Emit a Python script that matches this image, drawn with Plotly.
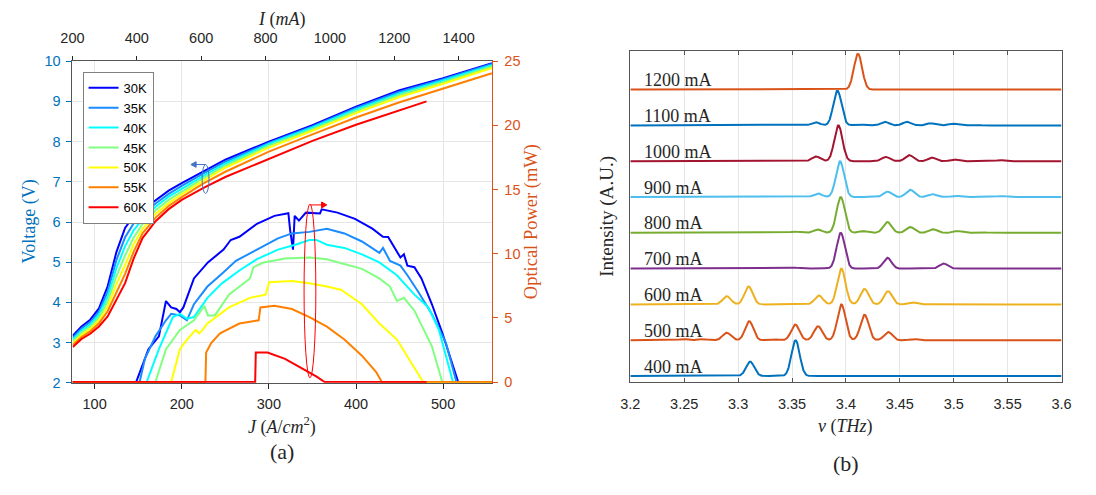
import numpy as np
import plotly.graph_objects as go

W, H = 1096, 495

def px(x):
    return x / W

def py(y):
    return 1 - y / H

# ---------------- Panel (a) data ----------------
TEMPS = ["30K", "35K", "40K", "45K", "50K", "55K", "60K"]
T_COLORS = ["#0000ff", "#1a8cff", "#00ffff", "#80ff80", "#ffff00", "#ff8000", "#ff0000"]

J_V = [75, 85, 95, 105, 115, 125, 135, 145, 155, 170, 185, 200, 225, 250, 300, 350, 400, 450, 500, 556]
V_30K = [3.17, 3.40, 3.57, 3.85, 4.40, 5.25, 5.85, 6.15, 6.30, 6.55, 6.78, 6.97, 7.27, 7.55, 8.00, 8.41, 8.87, 9.28, 9.58, 9.95]
V_35K = [3.12, 3.35, 3.51, 3.77, 4.27, 5.05, 5.62, 5.97, 6.18, 6.46, 6.70, 6.90, 7.21, 7.50, 7.97, 8.38, 8.84, 9.24, 9.55, 9.93]
V_40K = [3.08, 3.30, 3.45, 3.70, 4.15, 4.85, 5.40, 5.80, 6.07, 6.38, 6.63, 6.83, 7.15, 7.45, 7.94, 8.35, 8.80, 9.20, 9.52, 9.90]
V_45K = [3.03, 3.25, 3.40, 3.62, 4.02, 4.65, 5.17, 5.62, 5.95, 6.29, 6.55, 6.76, 7.09, 7.40, 7.90, 8.31, 8.76, 9.16, 9.48, 9.87]
V_50K = [2.98, 3.19, 3.34, 3.55, 3.90, 4.45, 4.93, 5.45, 5.83, 6.20, 6.47, 6.69, 7.03, 7.35, 7.85, 8.27, 8.71, 9.11, 9.44, 9.83]
V_55K = [2.94, 3.14, 3.28, 3.48, 3.78, 4.25, 4.71, 5.27, 5.72, 6.11, 6.40, 6.62, 6.96, 7.25, 7.75, 8.18, 8.60, 8.98, 9.32, 9.70]
J_V_60K = [75, 85, 95, 105, 115, 125, 135, 145, 155, 170, 185, 200, 225, 250, 300, 350, 400, 450, 481]
V_60K = [2.89, 3.09, 3.22, 3.40, 3.65, 4.05, 4.48, 5.10, 5.60, 6.02, 6.32, 6.55, 6.85, 7.12, 7.58, 8.02, 8.42, 8.78, 9.00]

J_P_30K = [74.6, 147.7, 161.8, 173.8, 181.9, 187.9, 193.9, 197.9, 201.9, 214, 230, 248, 256.2, 266.2, 286.3, 306.4, 322.4,
           324.4, 327.7, 329.6, 334.5, 342.5, 358.6, 360.6, 378.7, 398.8, 418.8, 430.9, 436.9, 443, 451, 455, 459, 467,
           475.1, 487.1, 499.2, 517.3, 556.6]
P_30K = [0, 0, 2.56, 3.56, 6.31, 5.81, 5.69, 5.44, 5.81, 8.07, 9.32, 10.32, 11.07, 11.32, 12.33, 12.95, 13.16,
         11.83, 10.32, 12.95, 12.58, 13.2, 13.13, 13.46, 13.2, 12.71, 11.95, 11.32, 11.3, 10.57, 9.7, 9.95, 9.07, 8.95,
         8.07, 6.06, 3.80, 0, 0]
J_P_35K = [74.6, 151.7, 157.7, 169.8, 181.9, 187.9, 197.9, 205.9, 214, 229.5, 246.1, 262.2, 286.3, 310.4, 326.5, 346.5,
           366.6, 386.7, 406.8, 426.8, 431, 439, 451, 459, 471, 487, 503.2, 515.3, 556.6]
P_35K = [0, 0, 1.8, 3.56, 4.81, 5.31, 5.19, 4.81, 6.06, 7.44, 8.44, 9.44, 10.32, 11.2, 11.58, 11.7,
         11.95, 11.58, 10.95, 10.07, 10.45, 9.44, 9.07, 8.32, 7.07, 5.31, 3.05, 0, 0]
J_P_40K = [74.6, 159.8, 173.8, 189.9, 197.9, 206, 214, 229.5, 246.1, 266.2, 286.3, 310.4, 330.5, 346.5, 354.6, 366.6,
           386.7, 406.8, 426.8, 446.9, 467.1, 483.1, 495.2, 511.3, 556.6]
P_40K = [0, 0, 2.56, 5.06, 5.31, 4.93, 5.06, 6.56, 7.69, 8.69, 9.57, 10.32, 10.7, 11.07, 11.07, 10.7,
         10.45, 9.95, 9.32, 8.32, 6.81, 5.81, 4.06, 0, 0]
J_P_45K = [74.6, 169.8, 181.9, 197.9, 214, 226, 230, 238, 254.2, 278.3, 282.3, 294.3, 318.5, 346.5, 366.6, 386.7,
           406.8, 426.8, 439, 447, 455, 467, 487, 499, 556.6]
P_45K = [0, 0, 2.56, 4.06, 4.81, 5.94, 5.19, 5.19, 6.81, 8.07, 8.95, 9.32, 9.62, 9.7, 9.57, 9.2,
         8.82, 8.07, 7.44, 6.31, 6.56, 5.56, 2.8, 0, 0]
J_P_50K = [74.6, 187.9, 197.9, 206, 216, 220, 224, 229.5, 254.2, 278.3, 296.3, 300.4, 326.5, 346.5, 366.6, 382.7,
           406.8, 426.8, 447, 463, 477.1, 556.6]
P_50K = [0, 0, 2.56, 3.31, 4.06, 3.8, 4.06, 4.56, 5.81, 6.56, 6.81, 7.77, 7.87, 7.69, 7.44, 7.19,
         6.06, 4.56, 3.31, 1.55, 0, 0]
J_P_55K = [74.6, 227.2, 228, 234, 244, 266.2, 288.3, 290.3, 306.4, 326.5, 346.5, 366.6, 386.7, 406.8, 422.9, 429.7, 556.6]
P_55K = [0, 0, 2.3, 3.05, 3.8, 4.56, 4.81, 5.81, 5.94, 5.69, 5.06, 4.31, 3.31, 2.05, 0.8, 0, 0]
J_P_60K = [74.6, 284.3, 285, 298.5, 318.6, 338.7, 354.8, 364, 481]
P_60K = [0, 0, 2.3, 2.3, 1.8, 1.05, 0.42, 0, 0]

J_TICKS = [100, 200, 300, 400, 500]
I_TICKS = [200, 400, 600, 800, 1000, 1200, 1400]
V_TICKS = [2, 3, 4, 5, 6, 7, 8, 9, 10]
P_TICKS = [0, 5, 10, 15, 20, 25]

# ---------------- Panel (b) data ----------------
CURRENTS = ["400 mA", "500 mA", "600 mA", "700 mA", "800 mA", "900 mA", "1000 mA", "1100 mA", "1200 mA"]
S_COLORS = ["#0072BD", "#D95319", "#EDB120", "#7E2F8E", "#77AC30", "#4DBEEE", "#A2142F", "#0072BD", "#D95319"]

NU_400 = [3.3112, 3.3533]
A_400 = [0.40, 1.00]
NU_500 = [3.2491, 3.2673, 3.2894, 3.3103, 3.3324, 3.3530, 3.3742, 3.3958, 3.4173, 3.4391, 3.4627]
A_500 = [0.03, 0.03, 0.21, 0.53, 0.03, 0.44, 0.39, 1.00, 0.71, 0.23, 0.03]
NU_600 = [3.2894, 3.3097, 3.3521, 3.3748, 3.3958, 3.4173, 3.4391, 3.4612, 3.4810]
A_600 = [0.23, 0.50, 0.02, 0.25, 1.00, 0.43, 0.37, 0.06, 0.02]
NU_700 = [3.3521, 3.3748, 3.3952, 3.4385, 3.4906, 3.5233]
A_700 = [0.03, 0.02, 1.00, 0.30, 0.14, 0.01]
NU_800 = [3.3521, 3.3739, 3.3952, 3.4158, 3.4385, 3.4597, 3.4809, 3.5036, 3.5248]
A_800 = [0.03, 0.09, 1.00, 0.05, 0.30, 0.16, 0.10, 0.05, 0.02]
NU_900 = [3.3739, 3.3945, 3.4385, 3.4597, 3.4803, 3.5021, 3.5452]
A_900 = [0.10, 1.00, 0.15, 0.20, 0.08, 0.03, 0.03]
NU_1000 = [3.3724, 3.3930, 3.4370, 3.4588, 3.4800, 3.5006, 3.5218, 3.5430]
A_1000 = [0.13, 1.00, 0.12, 0.17, 0.10, 0.05, 0.02, 0.03]
NU_1100 = [3.3718, 3.3921, 3.4121, 3.4361, 3.4567, 3.4788, 3.4991, 3.5203]
A_1100 = [0.09, 0.97, 0.03, 0.10, 0.10, 0.06, 0.05, 0.02]
NU_1200 = [3.4112]
A_1200 = [1.00]
NU_TICKS = [3.2, 3.25, 3.3, 3.35, 3.4, 3.45, 3.5, 3.55, 3.6]
NU_TICKTEXT = ["3.2", "3.25", "3.3", "3.35", "3.4", "3.45", "3.5", "3.55", "3.6"]

# ---------------- figure ----------------
fig = go.Figure()

v_sets = [(J_V, V_30K), (J_V, V_35K), (J_V, V_40K), (J_V, V_45K), (J_V, V_50K), (J_V, V_55K), (J_V_60K, V_60K)]
for name, col, (jx, vy) in zip(TEMPS, T_COLORS, v_sets):
    fig.add_trace(go.Scatter(x=jx, y=vy, mode="lines", name=name, line=dict(color=col, width=2),
                             xaxis="x", yaxis="y", hoverinfo="skip"))

p_sets = [(J_P_30K, P_30K), (J_P_35K, P_35K), (J_P_40K, P_40K), (J_P_45K, P_45K),
          (J_P_50K, P_50K), (J_P_55K, P_55K), (J_P_60K, P_60K)]
for name, col, (jx, py_) in zip(TEMPS, T_COLORS, p_sets):
    fig.add_trace(go.Scatter(x=jx, y=py_, mode="lines", name=name, showlegend=False,
                             line=dict(color=col, width=2), xaxis="x", yaxis="y2", hoverinfo="skip"))

# carrier for the top current axis
fig.add_trace(go.Scatter(x=I_TICKS, y=[None] * len(I_TICKS), mode="lines", showlegend=False,
                         xaxis="x2", yaxis="y", hoverinfo="skip"))

# spectra (each peak list rendered with a Gaussian line shape, stacked by one unit)
nu = np.linspace(3.2, 3.6, 2001)
SIG = 0.0038
peak_sets = [(NU_400, A_400), (NU_500, A_500), (NU_600, A_600), (NU_700, A_700), (NU_800, A_800),
             (NU_900, A_900), (NU_1000, A_1000), (NU_1100, A_1100), (NU_1200, A_1200)]
for k, (lab, col, (centers, amps)) in enumerate(zip(CURRENTS, S_COLORS, peak_sets)):
    y = np.full_like(nu, float(k))
    for c, a in zip(centers, amps):
        y = y + a * np.exp(-0.5 * ((nu - c) / SIG) ** 2)
    fig.add_trace(go.Scatter(x=nu, y=y, mode="lines", showlegend=False, line=dict(color=col, width=2),
                             xaxis="x3", yaxis="y3", hoverinfo="skip"))

SANS = "Liberation Sans, Arial, sans-serif"
SERIF = "Liberation Serif, Times New Roman, serif"
BLUE = "#0072BD"
ORANGE = "#D95319"
DARK = "#262626"
AXL = "#555555"
GRID = "#e6e6e6"
TF = 14.5

XL0, XL1 = px(61.7), px(490.3)
YL0, YL1 = py(387.3), py(55)
XR0, XR1 = px(631), px(1071)
YR0, YR1 = py(386.7), py(44)

fig.update_layout(
    width=W, height=H, autosize=False,
    margin=dict(l=0, r=0, t=0, b=0),
    paper_bgcolor="white", plot_bgcolor="white",
    showlegend=True,
    legend=dict(x=px(72), y=py(66), xanchor="left", yanchor="top",
                bgcolor="white", bordercolor="#808080", borderwidth=1,
                font=dict(family=SANS, size=13, color="black"),
                tracegroupgap=0, itemwidth=30),
    xaxis=dict(domain=[XL0, XL1], range=[74.6, 556.6], anchor="y", tickvals=J_TICKS,
               ticks="outside", ticklen=5, tickcolor=DARK, showline=True, linecolor=AXL, linewidth=1,
               showgrid=True, gridcolor=GRID, zeroline=False, ticklabelstandoff=3,
               tickfont=dict(family=SANS, size=TF, color=DARK)),
    xaxis2=dict(overlaying="x", side="top", anchor="y", range=[200, 1505], tickvals=I_TICKS,
                ticks="outside", ticklen=4, tickcolor=DARK, showline=True, linecolor=AXL, linewidth=1,
                showgrid=False, zeroline=False, ticklabelstandoff=7,
                tickfont=dict(family=SANS, size=TF, color=DARK)),
    yaxis=dict(domain=[YL0, YL1], range=[2, 10], anchor="x", tickvals=V_TICKS,
               ticks="outside", ticklen=5, tickcolor=BLUE, showline=True, linecolor=AXL, linewidth=1,
               showgrid=True, gridcolor=GRID, zeroline=False, ticklabelstandoff=3,
               tickfont=dict(family=SANS, size=TF, color=BLUE)),
    yaxis2=dict(overlaying="y", side="right", anchor="x", range=[-0.06, 25], tickvals=P_TICKS,
                ticks="outside", ticklen=5, tickcolor=ORANGE, showline=True, linecolor=ORANGE, linewidth=1,
                showgrid=False, zeroline=False, ticklabelstandoff=3,
                tickfont=dict(family=SANS, size=TF, color=ORANGE)),
    xaxis3=dict(domain=[XR0, XR1], range=[3.2, 3.6], anchor="y3", tickvals=NU_TICKS, ticktext=NU_TICKTEXT,
                ticks="inside", ticklen=4, tickcolor=AXL, showline=True, mirror="ticks", linecolor=AXL,
                linewidth=1, showgrid=True, gridcolor=GRID, zeroline=False, ticklabelstandoff=8,
                tickfont=dict(family=SANS, size=TF, color=DARK)),
    yaxis3=dict(domain=[YR0, YR1], range=[-0.173, 9.09], anchor="x3", showticklabels=False, ticks="",
                showline=True, mirror=True, linecolor=AXL, linewidth=1, showgrid=False, zeroline=False),
)

ann = []
def txt(x, y, s, size, color=DARK, angle=0, family=SERIF):
    ann.append(dict(x=px(x), y=py(y), xref="paper", yref="paper", text=s, showarrow=False,
                    xanchor="center", yanchor="middle", textangle=angle,
                    font=dict(family=family, size=size, color=color)))

txt(276, 12, "<i>I</i> (<i>mA</i>)", 18)
txt(276, 432, "<i>J</i> (<i>A</i>/<i>cm</i><sup>2</sup>)", 18)
txt(18, 221, "Voltage (V)", 18, BLUE, -90)
txt(531, 221, "Optical Power (mW)", 18.5, ORANGE, -90)
txt(607, 215, "Intensity (A.U.)", 19, DARK, -90)
txt(851, 432, "<i>ν</i> (<i>THz</i>)", 18)
txt(276, 458, "(a)", 22)
txt(851, 471, "(b)", 22)

for k, lab in enumerate(CURRENTS):
    ann.append(dict(x=3.2107, y=k + 0.26, xref="x3", yref="y3", text=lab, showarrow=False,
                    xanchor="left", yanchor="middle", font=dict(family=SERIF, size=18, color=DARK)))
fig.update_layout(annotations=ann)

# ellipses and arrows marking which axis each family belongs to
fig.add_shape(type="circle", xref="x", yref="y", x0=223.4, x1=231.3, y0=6.71, y1=7.43,
              line=dict(color="#4472C4", width=1))
fig.add_shape(type="line", xref="x", yref="y", x0=227.4, x1=213, y0=7.43, y1=7.43,
              line=dict(color="#4472C4", width=1))
fig.add_shape(type="path", xref="x", yref="y", path="M 210.5 7.43 L 216.5 7.5 L 216.5 7.36 Z",
              fillcolor="#4472C4", line=dict(color="#4472C4", width=1))
fig.add_shape(type="circle", xref="x", yref="y2", x0=340.4, x1=353.9, y0=0.33, y1=13.86,
              line=dict(color="#ff0000", width=1))
fig.add_shape(type="line", xref="x", yref="y2", x0=347.5, x1=363, y0=13.8, y1=13.8,
              line=dict(color="#ff0000", width=1))
fig.add_shape(type="path", xref="x", yref="y2", path="M 366.5 13.8 L 360.5 14.03 L 360.5 13.57 Z",
              fillcolor="#ff0000", line=dict(color="#ff0000", width=1))

fig.write_html("out.html")
